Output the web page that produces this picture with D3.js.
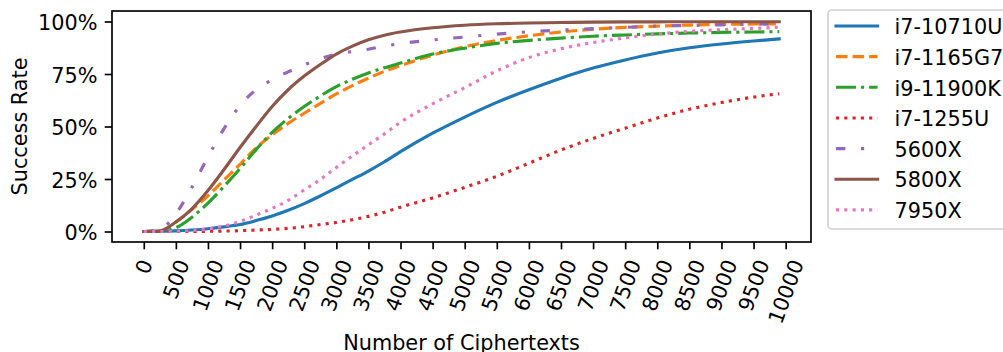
<!DOCTYPE html>
<html>
<head>
<meta charset="utf-8">
<script src="https://cdn.jsdelivr.net/npm/d3@7"></script>
<style>
  html, body { margin: 0; padding: 0; background: #fff; }
  svg { display: block; font-family: "DejaVu Sans", sans-serif; }
</style>
</head>
<body>
<svg id="chart" width="1003" height="352"></svg>
<script>
// ---- data ----
const ciphertexts = [0, 250, 500, 750, 1000, 1250, 1500, 1750, 2000, 2250, 2500, 2750, 3000, 3250, 3500, 3750, 4000, 4500, 5000, 5500, 6000, 6500, 7000, 7500, 8000, 8500, 9000, 9500, 9900];

const i7_10710U = [0, 0.1, 0.3, 0.7, 1.3, 2.2, 3.3, 5.2, 7.4, 10.1, 13.3, 16.9, 20.8, 24.8, 28.8, 33.2, 38, 46.8, 54.5, 61.5, 67.5, 73, 77.8, 81.7, 85, 87.5, 89.3, 90.7, 91.7];
const i7_1165G7 = [0, 0.3, 4.5, 10.5, 17, 24.5, 32, 39.8, 46, 51.5, 56.3, 61, 65.5, 69.5, 73, 76.3, 79, 84, 88, 91, 93.2, 95, 96.3, 97.2, 97.8, 98.3, 98.6, 98.8, 98.9];
const i9_11900K = [0, 0.2, 1.8, 6.8, 13.5, 21.5, 30, 39, 47.2, 53.8, 59.5, 64.5, 69, 72.5, 75.5, 78, 80.2, 84.5, 87.3, 89.6, 91, 92.1, 93, 93.6, 94.1, 94.5, 94.8, 95, 95.2];
const i7_1255U = [0, 0, 0, 0, 0.1, 0.2, 0.4, 0.7, 1, 1.5, 2.3, 3.3, 4.3, 5.6, 7.2, 9.2, 11.6, 16, 21, 26.3, 32.5, 38.8, 44.3, 49.2, 54, 58.2, 61.4, 64, 65.6];
const r5600X = [0, 1, 8.5, 21, 35.5, 49, 60, 67.5, 72.3, 76, 79.3, 82.3, 84.5, 85.7, 86.8, 88.3, 89.5, 91.2, 92.6, 94, 95.1, 95.9, 96.6, 97.2, 97.8, 98.1, 98.4, 98.7, 98.9];
const r5800X = [0, 0.2, 4.5, 10.8, 19.5, 29.5, 40, 50, 59.5, 67.5, 74, 79.5, 84.5, 88.3, 91.3, 93.5, 95, 97, 98.2, 98.9, 99.3, 99.5, 99.7, 99.8, 99.85, 99.9, 99.9, 99.9, 99.9];
const r7950X = [0, 0, 0.1, 0.5, 1.2, 2.6, 4.8, 7.8, 11, 14.8, 19.8, 24.8, 30.5, 36, 41.3, 46.5, 52, 60.8, 68.5, 76.5, 82.8, 87, 90, 92.2, 94, 95.3, 96.1, 96.7, 97.3];

const seriesNames = ["i7-10710U", "i7-1165G7", "i9-11900K", "i7-1255U", "5600X", "5800X", "7950X"];
const seriesValues = [i7_10710U, i7_1165G7, i9_11900K, i7_1255U, r5600X, r5800X, r7950X];
const xTicks = d3.range(0, 10001, 500);
const yTicks = [0, 0.25, 0.5, 0.75, 1];

// ---- styles ----
const colors = ["#1f77b4", "#ff7f0e", "#2ca02c", "#d62728", "#9467bd", "#8c564b", "#e377c2"];
const dashes = [null, "11.56,5", "20,5,3.125,5", "3.125,5.156", "9.375,15.625,3.125,15.625", null, "3.125,5.156"];
const LW = 3.125;
const FS = 20.8;

const svg = d3.select("#chart");
const L = 112, R = 811, T = 11, B = 242;

const x = d3.scaleLinear().domain([-495, 10395]).range([L, R]);
const y = d3.scaleLinear().domain([-0.05, 1.05]).range([B, T]);

// lines
const line = d3.line()
  .x(d => x(d[0]))
  .y(d => y(d[1] / 100))
  .curve(d3.curveMonotoneX);

seriesValues.forEach((vals, i) => {
  const pts = ciphertexts.map((c, j) => [c, vals[j]]);
  svg.append("path")
    .attr("d", line(pts))
    .attr("fill", "none")
    .attr("stroke", colors[i])
    .attr("stroke-width", LW)
    .attr("stroke-linejoin", "round")
    .attr("stroke-linecap", dashes[i] ? "butt" : "square")
    .attr("stroke-dasharray", dashes[i]);
});

// spines
svg.append("rect")
  .attr("x", L).attr("y", T)
  .attr("width", R - L).attr("height", B - T)
  .attr("fill", "none").attr("stroke", "#000").attr("stroke-width", 1.67);

// x axis
const xAxis = svg.append("g").attr("transform", `translate(0,${B})`)
  .call(d3.axisBottom(x).tickValues(xTicks).tickSize(7.3).tickPadding(0).tickFormat(d3.format("d")));
xAxis.select(".domain").remove();
xAxis.selectAll(".tick line").attr("stroke", "#000").attr("stroke-width", 1.67);
xAxis.selectAll(".tick text").each(function(d) {
  const t = d3.select(this);
  const str = String(d);
  const w = str.length * 0.636 * FS;
  const h = 1.16 * FS;
  const a = 70 * Math.PI / 180;
  const H = w * Math.sin(a) + h * Math.cos(a);
  const cy = 7.3 + 7.3 + H / 2;
  t.attr("y", null).attr("dy", null)
    .attr("transform", `translate(0,${cy}) rotate(-70)`)
    .attr("text-anchor", "middle")
    .attr("dominant-baseline", "central")
    .attr("font-size", FS)
    .attr("font-family", "DejaVu Sans")
    .attr("fill", "#000");
});

// y axis
const yAxis = svg.append("g").attr("transform", `translate(${L},0)`)
  .call(d3.axisLeft(y).tickValues(yTicks).tickSize(7.3).tickPadding(7.3).tickFormat(d3.format(".0%")));
yAxis.select(".domain").remove();
yAxis.selectAll(".tick line").attr("stroke", "#000").attr("stroke-width", 1.67);
yAxis.selectAll(".tick text")
  .attr("dy", null).attr("y", 8.3)
  .attr("font-size", FS).attr("font-family", "DejaVu Sans").attr("fill", "#000");

// axis titles
svg.append("text")
  .attr("x", (L + R) / 2).attr("y", 350)
  .attr("text-anchor", "middle")
  .attr("font-size", FS)
  .text("Number of Ciphertexts");

svg.append("text")
  .attr("transform", `translate(27,126.5) rotate(-90)`)
  .attr("text-anchor", "middle")
  .attr("font-size", FS)
  .text("Success Rate");

// legend
const lg = svg.append("g");
lg.append("rect")
  .attr("x", 828).attr("y", 10)
  .attr("width", 210).attr("height", 219)
  .attr("rx", 4).attr("ry", 4)
  .attr("fill", "#fff").attr("fill-opacity", 0.8)
  .attr("stroke", "#d0d0d0").attr("stroke-width", 1.6);

seriesNames.forEach((name, i) => {
  const cy = 26 + i * 30.65;
  lg.append("line")
    .attr("x1", 836).attr("x2", 877.6)
    .attr("y1", cy).attr("y2", cy)
    .attr("stroke", colors[i])
    .attr("stroke-width", LW)
    .attr("stroke-linecap", dashes[i] ? "butt" : "square")
    .attr("stroke-dasharray", dashes[i]);
  lg.append("text")
    .attr("x", 894.5).attr("y", cy + 8.2)
    .attr("font-size", FS)
    .text(name);
});
</script>
</body>
</html>
